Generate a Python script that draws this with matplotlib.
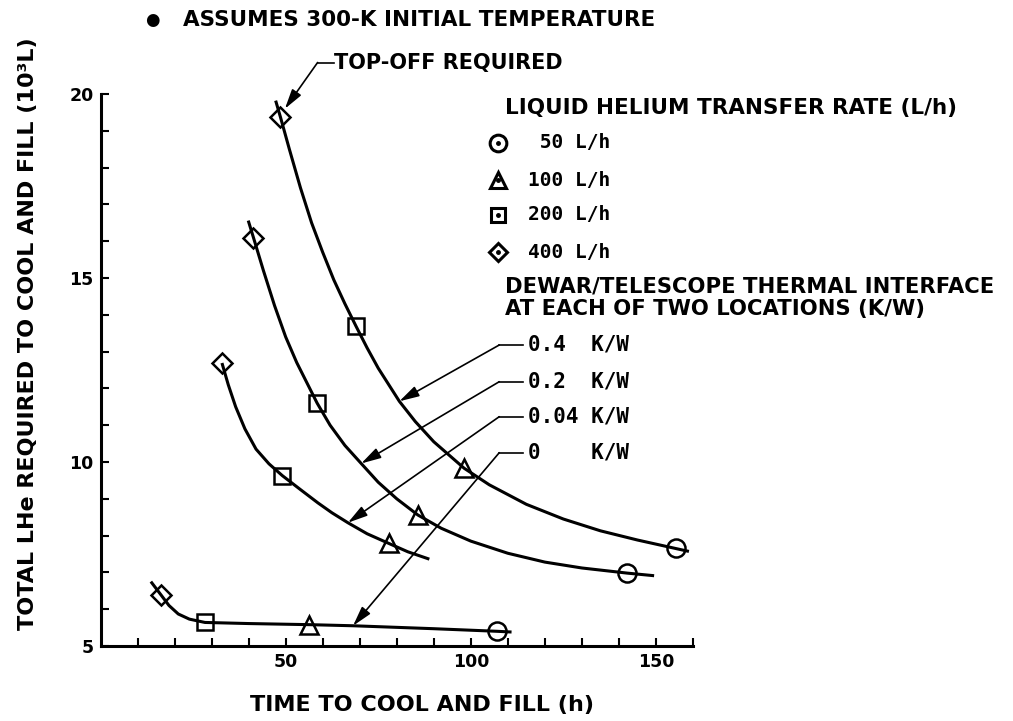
import matplotlib
matplotlib.use("Agg")
import matplotlib.pyplot as plt

W, H = 1013, 721

# curve traces: time (h), LHe (10^3 L)
curve_04_t = [47.3, 48.6, 51.0, 54.0, 57.0, 60.0, 63.0, 66.0, 69.0, 72.0, 75.0, 80.7, 85.0,
              90.0, 98.2, 105.0, 115.0, 125.0, 135.0, 145.0, 155.3, 158.9]
curve_04_v = [19.82, 19.37, 18.5, 17.45, 16.5, 15.7, 14.95, 14.3, 13.69, 13.1, 12.55, 11.65, 11.1,
              10.55, 9.83, 9.38, 8.85, 8.45, 8.13, 7.88, 7.65, 7.57]

curve_02_t = [39.9, 41.3, 44.0, 47.0, 50.0, 53.0, 56.0, 58.5, 62.0, 66.0, 70.4, 75.0, 80.0,
              85.7, 92.0, 100.0, 110.0, 120.0, 130.0, 142.3, 149.5]
curve_02_v = [16.56, 16.1, 15.2, 14.25, 13.4, 12.7, 12.1, 11.6, 11.0, 10.45, 9.96, 9.45, 9.0,
              8.56, 8.2, 7.85, 7.52, 7.28, 7.12, 6.98, 6.91]

curve_004_t = [32.8, 34.5, 36.5, 39.0, 42.0, 45.5, 49.1, 54.0, 58.7, 62.5, 66.8, 72.0, 77.8,
               83.0, 88.8]
curve_004_v = [12.69, 12.1, 11.5, 10.9, 10.35, 9.95, 9.63, 9.25, 8.89, 8.62, 8.35, 8.05, 7.79,
               7.56, 7.36]

curve_0_t = [13.6, 16.4, 18.5, 21.0, 24.0, 28.2, 40.0, 56.4, 68.2, 90.0, 107.0, 111.0]
curve_0_v = [6.75, 6.38, 6.1, 5.87, 5.73, 5.64, 5.61, 5.58, 5.55, 5.47, 5.40, 5.38]

# marker points by transfer rate
pts_400_t = [48.6, 41.3, 32.8, 16.4]
pts_400_v = [19.37, 16.1, 12.69, 6.38]
pts_200_t = [69.0, 58.5, 49.1, 28.2]
pts_200_v = [13.69, 11.6, 9.63, 5.64]
pts_100_t = [98.2, 85.7, 77.8, 56.4]
pts_100_v = [9.83, 8.56, 7.79, 5.58]
pts_50_t = [155.3, 142.3, 107.0]
pts_50_v = [7.65, 6.98, 5.4]

rate_labels = [" 50 L/h", "100 L/h", "200 L/h", "400 L/h"]
kw_labels = ["0.4  K/W", "0.2  K/W", "0.04 K/W", "0    K/W"]
# where each K/W leader arrow lands (h, 10^3 L)
kw_tip_t = [80.7, 70.4, 66.8, 68.2]
kw_tip_v = [11.65, 9.96, 8.35, 5.55]


def fx(px):
    return px / W


def fy(py):
    return 1 - py / H


def dx(px):
    # pixel column -> hours
    return (px - 100.5) / 3.71


def dy(py):
    # pixel row -> 10^3 L
    return 20 - (py - 94) / 36.8


fig = plt.figure(figsize=(W / 100, H / 100), dpi=100)
ax = fig.add_axes([fx(100.5), fy(646), (693 - 100.5) / W, (646 - 94) / H])

ax.set_xlim(0, 160)
ax.set_ylim(5, 20)
for s in ["top", "right"]:
    ax.spines[s].set_visible(False)
for s in ["left", "bottom"]:
    ax.spines[s].set_linewidth(2.2)

ax.set_xticks(range(10, 161, 10))
ax.set_xticklabels([str(t) if t in (50, 100, 150) else "" for t in range(10, 161, 10)])
ax.set_yticks(range(5, 21))
ax.set_yticklabels([str(t) if t % 5 == 0 else "" for t in range(5, 21)])
ax.tick_params(direction="in", length=6, width=1.5, labelsize=12.5, pad=5)
for lab in ax.get_xticklabels() + ax.get_yticklabels():
    lab.set_fontweight("bold")

# curves
for tt, vv in [(curve_04_t, curve_04_v), (curve_02_t, curve_02_v),
               (curve_004_t, curve_004_v), (curve_0_t, curve_0_v)]:
    ax.plot(tt, vv, color="black", lw=2.2, solid_capstyle="butt",
            solid_joinstyle="round", zorder=3)

mk = dict(color="black", ls="none", mfc="none", mew=1.8, zorder=4, clip_on=False)
ax.plot(pts_50_t, pts_50_v, marker="o", ms=13, **mk)
ax.plot(pts_100_t, pts_100_v, marker="^", ms=13, **mk)
ax.plot(pts_200_t, pts_200_v, marker="s", ms=11, **mk)
ax.plot(pts_400_t, pts_400_v, marker="D", ms=10, **mk)

arrow = dict(arrowstyle="-|>,head_length=0.8,head_width=0.22", color="black",
             lw=1.2, mutation_scale=15, shrinkA=0, shrinkB=0)

# K/W leaders
label_rows = [345, 381.7, 416.7, 452.7]
for lab, py, tt, vv in zip(kw_labels, label_rows, kw_tip_t, kw_tip_v):
    ax.plot([dx(500), dx(524)], [dy(py), dy(py)], color="black", lw=1.2, clip_on=False)
    ax.annotate("", xy=(tt, vv), xytext=(dx(500), dy(py)),
                arrowprops=arrow, annotation_clip=False)
    fig.text(fx(528), fy(py), lab, family="DejaVu Sans Mono", fontsize=15,
             fontweight="bold", va="center", ha="left")

# top-off leader
ax.plot([dx(318), dx(334)], [dy(62.5), dy(62.5)], color="black", lw=1.2, clip_on=False)
ax.annotate("", xy=(49.8, 19.6), xytext=(dx(318), dy(62.5)),
            arrowprops=arrow, annotation_clip=False)
fig.text(fx(334), fy(62.5), "TOP-OFF REQUIRED", fontsize=15, fontweight="bold",
         va="center", ha="left")

# legend for transfer rates
fig.text(fx(505), fy(108), "LIQUID HELIUM TRANSFER RATE (L/h)", fontsize=15.5,
         fontweight="bold", va="center", ha="left")
leg_rows = [143, 180, 215, 252]
leg_markers = [("o", 12), ("^", 12), ("s", 10), ("D", 9)]
for (m, s), py, lab in zip(leg_markers, leg_rows, rate_labels):
    fig.add_artist(plt.Line2D([fx(498)], [fy(py)], marker=m, ms=s, mfc="none",
                              mec="black", mew=2.2, transform=fig.transFigure))
    fig.add_artist(plt.Line2D([fx(498)], [fy(py)], marker="o", ms=2.5, mfc="black",
                              mec="black", transform=fig.transFigure))
    fig.text(fx(528), fy(py), lab, family="DejaVu Sans Mono", fontsize=14,
             fontweight="bold", va="center", ha="left")

fig.text(fx(505), fy(286.7), "DEWAR/TELESCOPE THERMAL INTERFACE", fontsize=15.2,
         fontweight="bold", va="center", ha="left")
fig.text(fx(505), fy(309), "AT EACH OF TWO LOCATIONS (K/W)", fontsize=15.2,
         fontweight="bold", va="center", ha="left")

# notes and axis titles
fig.text(fx(152.5), fy(20), "\u25cf", fontsize=12, va="center", ha="center")
fig.text(fx(183), fy(20), "ASSUMES 300-K INITIAL TEMPERATURE", fontsize=15.5,
         fontweight="bold", va="center", ha="left")
fig.text(fx(422), fy(705), "TIME TO COOL AND FILL (h)", fontsize=16,
         fontweight="bold", va="center", ha="center")
fig.text(fx(28), fy(334), "TOTAL LHe REQUIRED TO COOL AND FILL (10\u00b3L)",
         fontsize=16, fontweight="bold", rotation=90, va="center", ha="center")

fig.savefig("out.png", dpi=100)
